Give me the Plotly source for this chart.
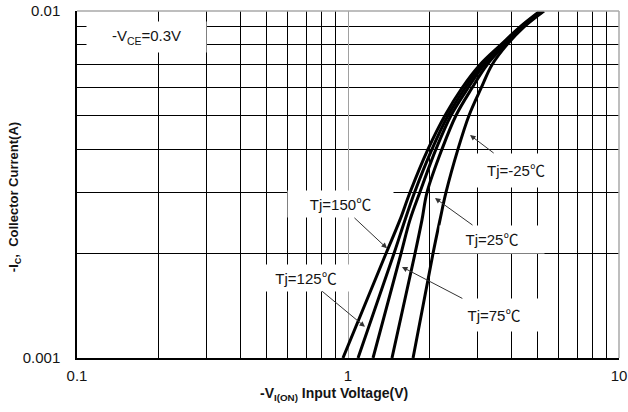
import math
import plotly.graph_objects as go

# Collector current levels (A) at which the input voltage is tabulated
ic_levels = [0.001, 0.002, 0.0025, 0.003, 0.004, 0.005, 0.006, 0.007, 0.008, 0.009, 0.01]

# Input voltage -V_I(ON) (V) for each junction temperature
v_tj150 = [0.958, 1.381, 1.555, 1.693, 1.974, 2.280, 2.634, 3.069, 3.669, 4.312, 5.111]
v_tj125 = [1.089, 1.478, 1.623, 1.760, 2.042, 2.339, 2.703, 3.122, 3.700, 4.349, 5.155]
v_tj75 = [1.237, 1.569, 1.693, 1.840, 2.112, 2.399, 2.772, 3.176, 3.733, 4.386, 5.199]
v_tj25 = [1.453, 1.767, 1.875, 1.957, 2.223, 2.503, 2.868, 3.259, 3.797, 4.423, 5.244]
v_tjm25 = [1.738, 2.059, 2.185, 2.299, 2.546, 2.796, 3.100, 3.400, 3.862, 4.462, 5.288]

temp_labels = ["Tj=150℃", "Tj=125℃", "Tj=75℃", "Tj=25℃", "Tj=-25℃"]

# Axis ticks
x_tick_vals = [0.1, 1, 10]
x_tick_text = ["0.1", "1", "10"]
x_grid_vals = [0.2, 0.3, 0.4, 0.5, 0.6, 0.7, 0.8, 0.9, 2, 3, 4, 5, 6, 7, 8, 9]
y_tick_vals = [0.001, 0.01]
y_tick_text = ["0.001", "0.01"]
y_grid_vals = [0.002, 0.003, 0.004, 0.005, 0.006, 0.007, 0.008, 0.009]

FONT = "Liberation Sans, Arial, Noto Sans CJK SC, sans-serif"
INK = "#141414"

fig = go.Figure()

for v in [v_tj150, v_tj125, v_tj75, v_tj25, v_tjm25]:
    fig.add_trace(go.Scatter(
        x=v, y=ic_levels, mode="lines",
        line=dict(color="black", width=3, shape="spline", smoothing=1.0),
        showlegend=False, hoverinfo="skip",
    ))

# Label placement: arrow tip (V, Ic), text offset (px) and white box size (px)
label_layout = [
    dict(x=1.393, y=0.00207, ax=-47, ay=-44, w=105, h=26),
    dict(x=1.155, y=0.00123, ax=-59, ay=-49, w=100, h=26),
    dict(x=1.582, y=0.00183, ax=92, ay=48, w=108, h=32),
    dict(x=2.094, y=0.00289, ax=57, ay=41, w=104, h=27),
    dict(x=2.82, y=0.00439, ax=46, ay=35, w=78, h=33),
]

for text, pos in zip(temp_labels, label_layout):
    # annotations on log axes take log10 coordinates
    fig.add_annotation(
        x=math.log10(pos["x"]), y=math.log10(pos["y"]), xref="x", yref="y",
        text=text, showarrow=True, arrowhead=2, arrowsize=1.1, arrowwidth=1,
        arrowcolor="#333333", ax=pos["ax"], ay=pos["ay"],
        width=pos["w"], height=pos["h"], bgcolor="white", borderpad=0,
        font=dict(family=FONT, size=15, color=INK),
    )

# Test condition
fig.add_annotation(
    x=0.128, y=0.925, xref="paper", yref="paper",
    xanchor="center", yanchor="middle",
    text="-V<sub>CE</sub>=0.3V", showarrow=False,
    width=119, height=30, bgcolor="white", borderpad=0,
    font=dict(family=FONT, size=15, color=INK),
)

# Axis titles
fig.add_annotation(
    x=0.474, y=-0.103, xref="paper", yref="paper",
    xanchor="center", yanchor="middle",
    text="-V<sub>I(ON)</sub> Input Voltage(V)", showarrow=False,
    font=dict(family=FONT, size=14, color=INK, weight="bold"),
)
fig.add_annotation(
    x=-0.114, y=0.464, xref="paper", yref="paper",
    xanchor="center", yanchor="middle",
    text="-I<sub>C</sub>,  Collector Current(A)", showarrow=False, textangle=-90,
    font=dict(family=FONT, size=13, color=INK, weight="bold"),
)

# Lighter top and right frame edges
fig.add_shape(type="line", xref="paper", yref="paper", x0=0, x1=1, y0=1, y1=1,
              line=dict(color="#a8a8a8", width=1.5))
fig.add_shape(type="line", xref="paper", yref="paper", x0=1, x1=1, y0=0, y1=1,
              line=dict(color="#a8a8a8", width=1.5))

fig.update_xaxes(
    type="log", range=[-1, 1], automargin=False,
    tickmode="array", tickvals=x_tick_vals, ticktext=x_tick_text,
    ticks="", ticklabelstandoff=3,
    showgrid=True, gridcolor="#a0a0a0", gridwidth=1,
    minor=dict(tickmode="array", tickvals=x_grid_vals, showgrid=True,
               gridcolor="black", gridwidth=1.3, ticks=""),
    showline=True, linecolor="black", linewidth=1.5, mirror=False,
    zeroline=False,
    tickfont=dict(family=FONT, size=15, color=INK),
)
fig.update_yaxes(
    type="log", range=[-3, -2], automargin=False,
    tickmode="array", tickvals=y_tick_vals, ticktext=y_tick_text,
    ticks="", ticklabelstandoff=12,
    showgrid=True, gridcolor="#a0a0a0", gridwidth=1,
    minor=dict(tickmode="array", tickvals=y_grid_vals, showgrid=True,
               gridcolor="black", gridwidth=1.3, ticks=""),
    showline=True, linecolor="black", linewidth=1.5, mirror=False,
    zeroline=False,
    tickfont=dict(family=FONT, size=15, color=INK),
)

fig.update_layout(
    width=628, height=412,
    margin=dict(l=77, r=9, t=11, b=54),
    paper_bgcolor="white", plot_bgcolor="white",
    showlegend=False,
)

fig.write_html("out.html")
